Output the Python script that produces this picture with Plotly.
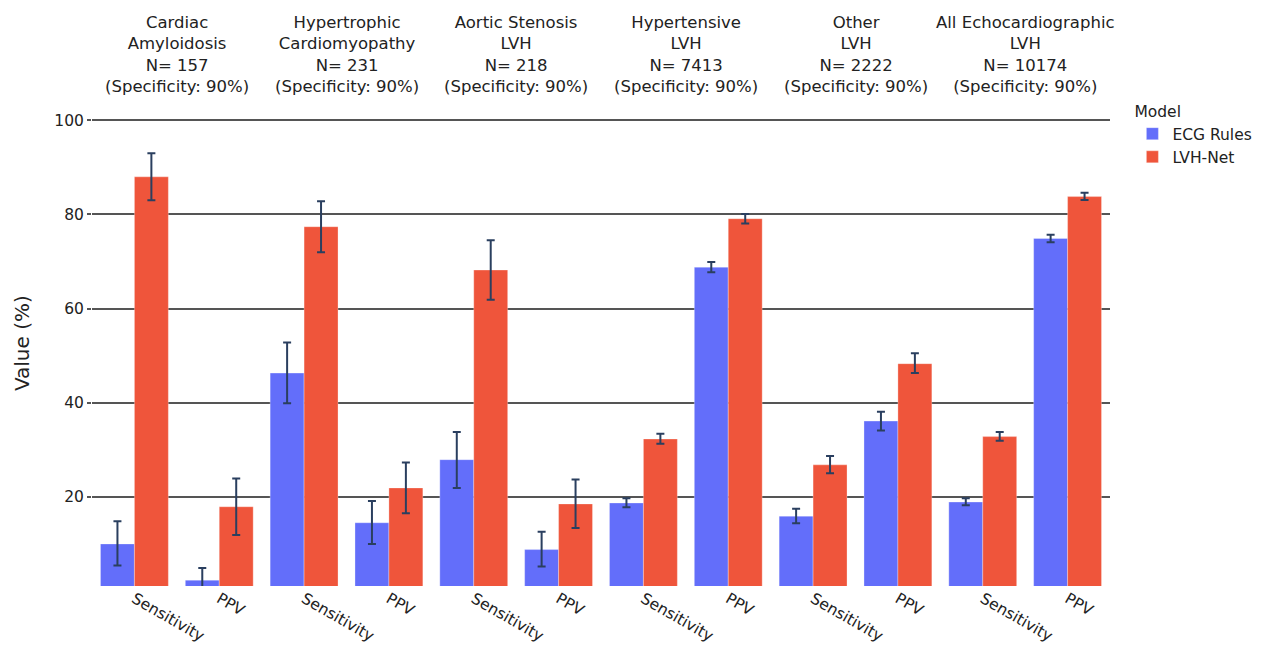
import plotly.graph_objects as go
from plotly.subplots import make_subplots

groups = [
    "Cardiac<br>Amyloidosis<br>N= 157<br>(Specificity: 90%)",
    "Hypertrophic<br>Cardiomyopathy<br>N= 231<br>(Specificity: 90%)",
    "Aortic Stenosis<br>LVH<br>N= 218<br>(Specificity: 90%)",
    "Hypertensive<br>LVH<br>N= 7413<br>(Specificity: 90%)",
    "Other<br>LVH<br>N= 2222<br>(Specificity: 90%)",
    "All Echocardiographic<br>LVH<br>N= 10174<br>(Specificity: 90%)",
]
metrics = ["Sensitivity", "PPV"]
models = ["ECG Rules", "LVH-Net"]
colors = ["#636EFA", "#EF553B"]

ecg_sens = [10.0, 46.3, 27.9, 18.7, 15.9, 18.9]
ecg_sens_hi = [4.8, 6.5, 5.9, 1.0, 1.6, 0.8]
ecg_sens_lo = [4.6, 6.4, 6.0, 0.9, 1.5, 0.7]
ecg_ppv = [2.3, 14.5, 8.8, 68.8, 36.1, 74.9]
ecg_ppv_hi = [2.6, 4.6, 3.8, 1.1, 2.0, 0.8]
ecg_ppv_lo = [2.6, 4.5, 3.6, 1.1, 2.0, 0.8]
lvh_sens = [88.0, 77.4, 68.2, 32.3, 26.8, 32.8]
lvh_sens_hi = [5.0, 5.4, 6.3, 1.1, 1.9, 1.0]
lvh_sens_lo = [5.0, 5.4, 6.3, 1.0, 1.8, 0.9]
lvh_ppv = [17.9, 21.9, 18.5, 79.1, 48.3, 83.8]
lvh_ppv_hi = [6.0, 5.4, 5.2, 1.0, 2.2, 0.8]
lvh_ppv_lo = [6.0, 5.4, 5.1, 1.0, 2.0, 0.7]

FONT = "DejaVu Sans"
TXT = "#222222"
ncol = len(groups)
fig = make_subplots(rows=1, cols=ncol, shared_yaxes=True, horizontal_spacing=0)

series = [
    (ecg_sens, ecg_sens_hi, ecg_sens_lo, ecg_ppv, ecg_ppv_hi, ecg_ppv_lo),
    (lvh_sens, lvh_sens_hi, lvh_sens_lo, lvh_ppv, lvh_ppv_hi, lvh_ppv_lo),
]

for i in range(ncol):
    for m, (s, shi, slo, p, phi, plo) in enumerate(series):
        fig.add_trace(
            go.Bar(
                x=metrics,
                y=[s[i], p[i]],
                name=models[m],
                legendgroup=models[m],
                showlegend=(i == 0),
                marker=dict(color=colors[m], line=dict(color="rgba(255,255,255,0.6)", width=0.5)),
                error_y=dict(type="data", symmetric=False, array=[shi[i], phi[i]],
                             arrayminus=[slo[i], plo[i]], color="#2a3f5f",
                             thickness=2, width=4),
            ),
            row=1, col=i + 1,
        )

for i in range(ncol):
    xa = "xaxis" if i == 0 else f"xaxis{i+1}"
    dom = fig.layout[xa].domain
    fig.add_annotation(
        x=(dom[0] + dom[1]) / 2, y=1, xref="paper", yref="paper",
        xanchor="center", yanchor="bottom", yshift=20, showarrow=False,
        text=groups[i], font=dict(family=FONT, size=16.5, color=TXT),
    )

# y-axis title
fig.add_annotation(
    x=-0.0688, y=0.519, xref="paper", yref="paper", xanchor="center", yanchor="middle",
    textangle=-90, showarrow=False, text="Value (%)",
    font=dict(family=FONT, size=20, color=TXT),
)

fig.update_xaxes(tickangle=30, showgrid=False, showline=False, ticks="", automargin=False,
                 tickfont=dict(family=FONT, size=15.5, color=TXT))
fig.update_yaxes(range=[1.06, 100.5], dtick=20, tick0=0, showgrid=True, automargin=False,
                 gridcolor="#555555", gridwidth=1.5, zeroline=False, showline=False,
                 ticks="", tickfont=dict(family=FONT, size=15.5, color=TXT))
fig.update_yaxes(ticks="outside", ticklen=4, tickcolor="#555555", tickwidth=1.5,
                 row=1, col=1)

fig.update_layout(
    width=1275, height=645,
    margin=dict(l=92, r=165, t=118, b=59),
    paper_bgcolor="white", plot_bgcolor="white",
    barmode="group", bargap=0.2, bargroupgap=0,
    font=dict(family=FONT, size=15.5, color=TXT),
    legend=dict(title=dict(text="Model", font=dict(family=FONT, size=15.5)),
                x=1.022, y=1.045, xanchor="left", yanchor="top",
                font=dict(family=FONT, size=15.5), tracegroupgap=0),
)

fig.write_html("out.html")
